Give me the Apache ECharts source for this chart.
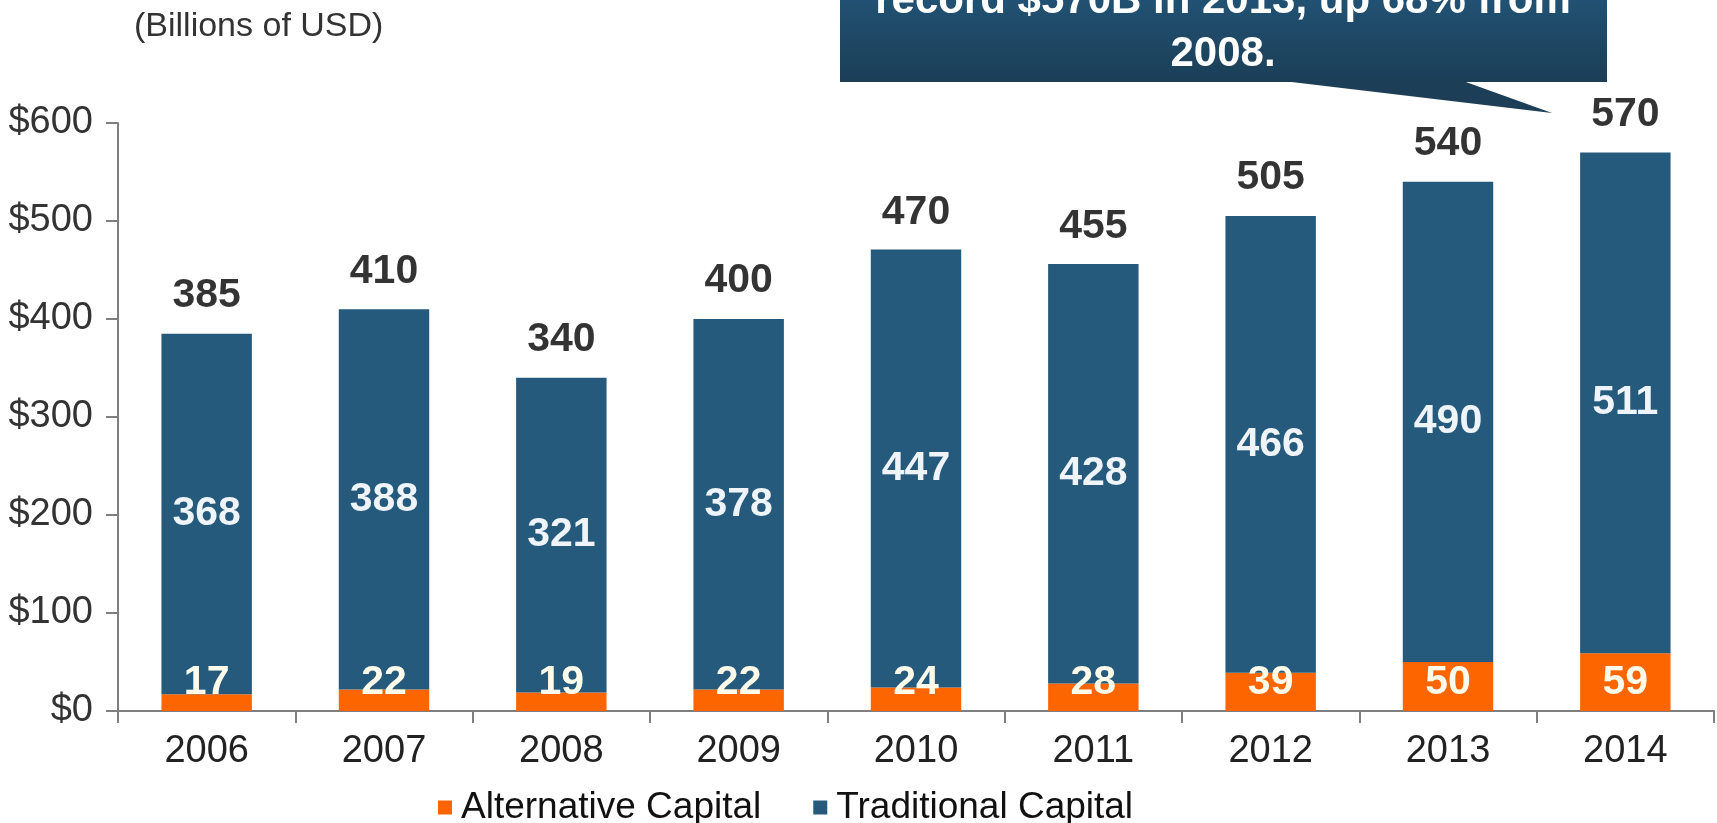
<!DOCTYPE html>
<html>
<head>
<meta charset="utf-8">
<script src="https://cdn.jsdelivr.net/npm/echarts@6/dist/echarts.min.js"></script>
<style>
  html, body { margin: 0; padding: 0; background: #fff; }
  #chart { width: 1717px; height: 823px; }
</style>
</head>
<body>
<div id="chart"></div>
<script>
const years = ['2006', '2007', '2008', '2009', '2010', '2011', '2012', '2013', '2014'];
const alternativeCapital = [17, 22, 19, 22, 24, 28, 39, 50, 59];
const traditionalCapital = [368, 388, 321, 378, 447, 428, 466, 490, 511];
const totals = [385, 410, 340, 400, 470, 455, 505, 540, 570];
const yTicks = [0, 100, 200, 300, 400, 500, 600];

const font = '"Liberation Sans", Arial, sans-serif';
const axisGrey = '#7f7f7f';

const initChart = () => {
    const myChart = echarts.init(document.getElementById('chart'));
    myChart.setOption({
        animation: false,
        textStyle: { fontFamily: font },
        title: {
            text: '(Billions of USD)',
            left: 129,
            top: 5,
            textStyle: { fontFamily: font, fontSize: 34, fontWeight: 'normal', color: '#333' }
        },
        legend: {
            data: ['Alternative Capital', 'Traditional Capital'],
            left: 433,
            top: 784,
            icon: 'rect',
            itemWidth: 14,
            itemHeight: 14,
            itemGap: 52,
            textStyle: { fontFamily: font, fontSize: 37, color: '#111', padding: [0, 0, 0, 4] }
        },
        grid: { left: 118, right: 3, top: 123, bottom: 112 },
        xAxis: {
            type: 'category',
            data: years,
            axisLine: { lineStyle: { color: axisGrey, width: 2 } },
            axisTick: { show: true, length: 12, lineStyle: { color: axisGrey, width: 2 } },
            axisLabel: { margin: 22, fontSize: 38, color: '#222', fontFamily: font }
        },
        yAxis: {
            type: 'value',
            min: yTicks[0],
            max: yTicks[yTicks.length - 1],
            interval: 100,
            splitLine: { show: false },
            axisLine: { show: true, lineStyle: { color: axisGrey, width: 2 } },
            axisTick: { show: true, length: 12, lineStyle: { color: axisGrey, width: 2 } },
            axisLabel: { margin: 25, fontSize: 38, color: '#333', fontFamily: font, formatter: v => '$' + v }
        },
        series: [
            {
                name: 'Alternative Capital',
                type: 'bar',
                stack: 'cap',
                barWidth: '51%',
                data: alternativeCapital,
                itemStyle: { color: '#fc6500' },
                label: {
                    show: true,
                    position: 'insideBottom',
                    distance: 8,
                    fontSize: 41,
                    fontWeight: 'bold',
                    fontFamily: font,
                    color: '#fffbea'
                }
            },
            {
                name: 'Traditional Capital',
                type: 'bar',
                stack: 'cap',
                barWidth: '51%',
                data: traditionalCapital,
                itemStyle: { color: '#255a7c' },
                label: {
                    show: true,
                    position: 'inside',
                    fontSize: 41,
                    fontWeight: 'bold',
                    fontFamily: font,
                    color: '#eef4fa'
                }
            },
            {
                name: 'Total',
                type: 'scatter',
                data: totals,
                symbolSize: 1,
                itemStyle: { color: 'transparent' },
                label: {
                    show: true,
                    position: 'top',
                    distance: 17,
                    fontSize: 41,
                    fontWeight: 'bold',
                    fontFamily: font,
                    color: '#000'
                }
            }
        ],
        graphic: [
            {
                type: 'rect',
                shape: { x: 840, y: -20, width: 767, height: 102 },
                style: {
                    fill: new echarts.graphic.LinearGradient(0, 0, 0, 1, [
                        { offset: 0, color: '#23567a' },
                        { offset: 1, color: '#1b3e56' }
                    ])
                },
                z: 10
            },
            {
                type: 'polygon',
                shape: { points: [[1283, 81], [1463, 81], [1552, 113]] },
                style: { fill: '#1c3f57' },
                z: 10
            },
            {
                type: 'text',
                x: 1223,
                y: 1,
                style: {
                    text: 'record $570B in 2013, up 68% from',
                    fontFamily: font,
                    fontSize: 42,
                    fontWeight: 'bold',
                    fill: '#fff',
                    align: 'center',
                    verticalAlign: 'middle'
                },
                z: 11
            },
            {
                type: 'text',
                x: 1223,
                y: 54,
                style: {
                    text: '2008.',
                    fontFamily: font,
                    fontSize: 42,
                    fontWeight: 'bold',
                    fill: '#fff',
                    align: 'center',
                    verticalAlign: 'middle'
                },
                z: 11
            }
        ]
    });
};

window.addEventListener('load', initChart);
</script>
</body>
</html>
